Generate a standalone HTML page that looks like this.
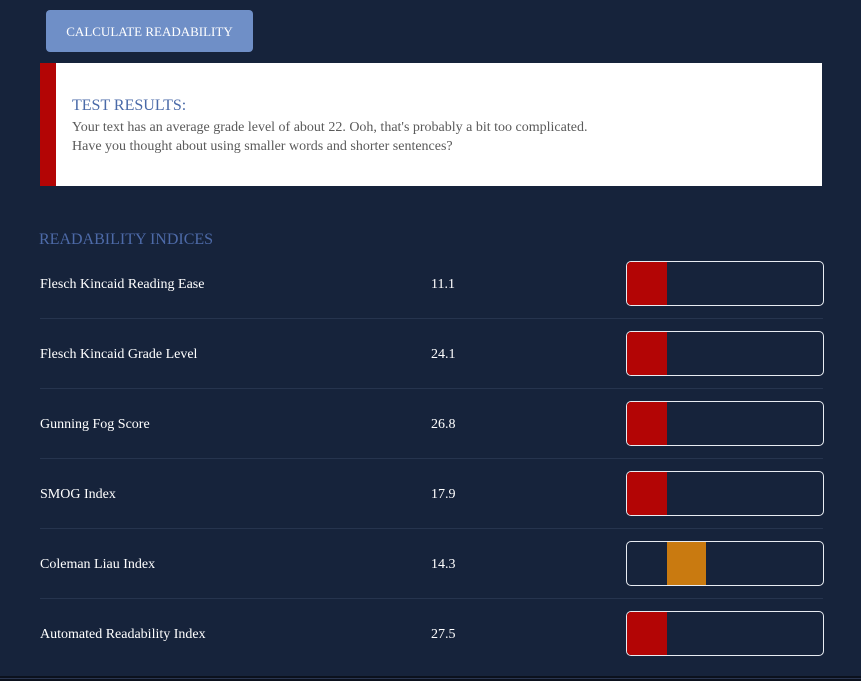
<!DOCTYPE html>
<html>
<head>
<meta charset="utf-8">
<style>
  html { margin:0; padding:0; width:861px; height:681px; overflow:hidden; }
  body {
    margin:0; padding:0;
    width:861px; height:681px; overflow:hidden; position:relative;
    background:#16233b;
    font-family:"Liberation Serif", "Times New Roman", serif;
  }
  .btn {
    position:absolute; left:46px; top:10px; width:207px; height:42px;
    background:#6f8fc7; border-radius:4px;
    color:#fff; font-size:13px; line-height:44px; text-align:center;
    box-sizing:border-box;
  }
  .box {
    position:absolute; left:40px; top:63px; width:782px; height:123px;
    background:#fff;
  }
  .box .bar { position:absolute; left:0; top:0; width:16px; height:123px; background:#b30505; }
  .tr { position:absolute; left:32px; top:33px; font-size:16px; line-height:20px; color:#4a6aa8; white-space:nowrap; }
  .p { position:absolute; left:32px; top:55px; font-size:14px; line-height:19px; color:#5a5a5a; white-space:nowrap; }
  .h { position:absolute; left:39px; top:230px; font-size:16px; line-height:20px; color:#4d6aa8; white-space:nowrap; }
  .row { position:absolute; left:40px; width:783px; height:0; }
  .row .lbl { position:absolute; left:0; top:-8px; font-size:14px; line-height:20px; color:#fff; white-space:nowrap; }
  .row .val { position:absolute; left:391px; top:-8px; font-size:14px; line-height:20px; color:#fff; }
  .row .meter {
    position:absolute; left:586px; top:-22px; width:198px; height:45px;
    box-sizing:border-box; border:1px solid #e8ecf2; border-radius:5px; overflow:hidden;
  }
  .row .fill { position:absolute; top:0; height:43px; width:40px; }
  .sep { position:absolute; left:40px; width:783px; height:1px; background:#26344e; }
  .b1 { position:absolute; left:0; top:676px; width:861px; height:2px; background:#0b111d; }
  .b2 { position:absolute; left:0; top:678px; width:861px; height:1px; background:#2a3550; }
  .b3 { position:absolute; left:0; top:679px; width:861px; height:2px; background:#0b111d; }
</style>
</head>
<body>
  <div class="btn">CALCULATE READABILITY</div>

  <div class="box">
    <div class="bar"></div>
    <div class="tr">TEST RESULTS:</div>
    <div class="p">Your text has an average grade level of about 22. Ooh, that's probably a bit too complicated.<br>Have you thought about using smaller words and shorter sentences?</div>
  </div>

  <div class="h">READABILITY INDICES</div>

  <div class="row" style="top:283px;">
    <div class="lbl">Flesch Kincaid Reading Ease</div>
    <div class="val">11.1</div>
    <div class="meter"><div class="fill" style="left:0;background:#b30505;"></div></div>
  </div>
  <div class="sep" style="top:318px;"></div>

  <div class="row" style="top:353px;">
    <div class="lbl">Flesch Kincaid Grade Level</div>
    <div class="val">24.1</div>
    <div class="meter"><div class="fill" style="left:0;background:#b30505;"></div></div>
  </div>
  <div class="sep" style="top:388px;"></div>

  <div class="row" style="top:423px;">
    <div class="lbl">Gunning Fog Score</div>
    <div class="val">26.8</div>
    <div class="meter"><div class="fill" style="left:0;background:#b30505;"></div></div>
  </div>
  <div class="sep" style="top:458px;"></div>

  <div class="row" style="top:493px;">
    <div class="lbl">SMOG Index</div>
    <div class="val">17.9</div>
    <div class="meter"><div class="fill" style="left:0;background:#b30505;"></div></div>
  </div>
  <div class="sep" style="top:528px;"></div>

  <div class="row" style="top:563px;">
    <div class="lbl">Coleman Liau Index</div>
    <div class="val">14.3</div>
    <div class="meter"><div class="fill" style="left:40px;width:39px;background:#c97a10;"></div></div>
  </div>
  <div class="sep" style="top:598px;"></div>

  <div class="row" style="top:633px;">
    <div class="lbl">Automated Readability Index</div>
    <div class="val">27.5</div>
    <div class="meter"><div class="fill" style="left:0;background:#b30505;"></div></div>
  </div>

  <div class="b1"></div>
  <div class="b2"></div>
  <div class="b3"></div>
</body>
</html>
